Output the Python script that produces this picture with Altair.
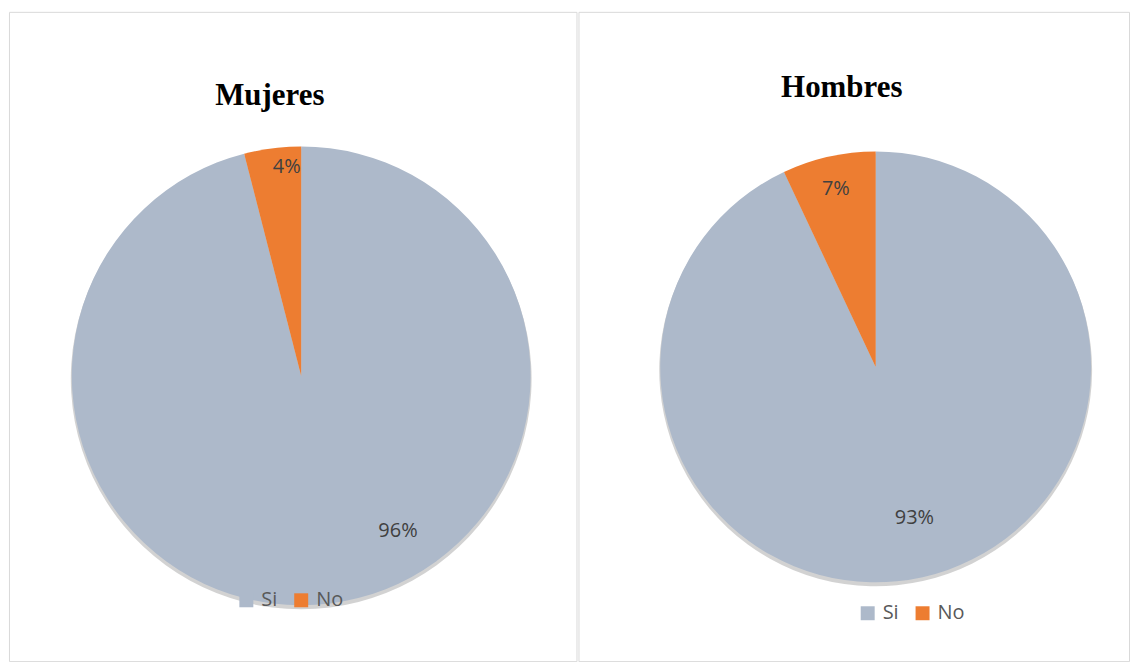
import altair as alt
import pandas as pd

respuestas = ["Si", "No"]
orden = [1, 2]
mujeres_pct = [96, 4]
hombres_pct = [93, 7]
colores = ["#ADB9CA", "#ED7D31"]


def panel(titulo, valores, w, h, cx, cy, r, title_dx, title_base,
          lx, ly, small_r, small_dx, big_r, big_dx, big_dy):
    df = pd.DataFrame({
        "respuesta": respuestas,
        "valor": valores,
        "orden": orden,
        "etiqueta": [f"{v}%" for v in valores],
    })
    base = alt.Chart(df).encode(
        theta=alt.Theta("valor:Q", stack=True),
        order=alt.Order("orden:Q"),
    )
    shadow = base.mark_arc(outerRadius=r + 1, color="#7F7F7F", opacity=0.35).encode(
        x=alt.value(cx), y=alt.value(cy + 3)
    )
    pie = base.mark_arc(outerRadius=r, strokeWidth=0).encode(
        x=alt.value(cx),
        y=alt.value(cy),
        color=alt.Color(
            "respuesta:N",
            sort=respuestas,
            scale=alt.Scale(domain=respuestas, range=colores),
            legend=alt.Legend(
                orient="none",
                legendX=lx,
                legendY=ly,
                direction="horizontal",
                title=None,
                symbolType="square",
                symbolSize=196,
                symbolStrokeWidth=0,
                labelFont="Open Sans",
                labelFontSize=20,
                labelColor="#595959",
                labelOffset=5,
                columnPadding=13,
                padding=0,
            ),
        ),
    )
    small = base.mark_text(
        radius=small_r, dx=small_dx, font="Open Sans", fontSize=20,
        color="#404040", align="center", baseline="middle"
    ).encode(
        x=alt.value(cx), y=alt.value(cy),
        text=alt.condition("datum.valor < 50", alt.Text("etiqueta:N"), alt.value("")),
    )
    big = base.mark_text(
        radius=big_r, dx=big_dx, dy=big_dy, font="Open Sans", fontSize=20,
        color="#404040", align="center", baseline="middle"
    ).encode(
        x=alt.value(cx), y=alt.value(cy),
        text=alt.condition("datum.valor >= 50", alt.Text("etiqueta:N"), alt.value("")),
    )
    return alt.layer(shadow, pie, small, big).properties(
        width=w,
        height=h,
        title=alt.TitleParams(
            text=titulo,
            font="Liberation Serif",
            fontSize=31,
            fontWeight="bold",
            color="#000000",
            anchor="middle",
            baseline="alphabetic",
            offset=-title_base,
            dx=title_dx,
        ),
    )


left = panel("Mujeres", mujeres_pct, 569, 651, 293, 365, 230, -23, 124,
             228, 580, 211, 12, 184, 74, -27)
right = panel("Hombres", hombres_pct, 552, 651, 298, 356, 216, -12, 116,
              280, 593, 183, 0, 155, 5, 0)

chart = alt.hconcat(left, right, spacing=0).resolve_legend(color="independent").properties(
    padding={"left": 8, "top": 10, "right": 0, "bottom": 0},
    background="#FFFFFF",
).configure_view(stroke="#D9D9D9", strokeWidth=1)

chart.save("out.html", embed_options={"renderer": "svg", "actions": False})
